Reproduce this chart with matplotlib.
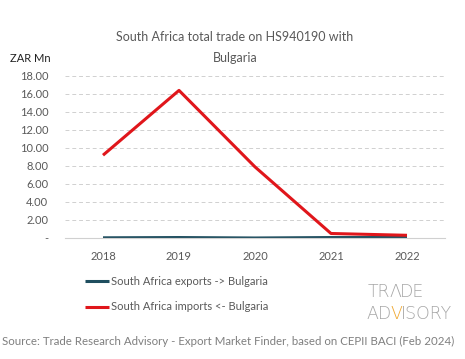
import matplotlib
matplotlib.use("Agg")
import matplotlib.pyplot as plt

years = ["2018", "2019", "2020", "2021", "2022"]
exports = [0.02, 0.05, 0.0, 0.05, 0.05]
imports = [9.2, 16.4, 7.9, 0.5, 0.3]
yticks = [0, 2, 4, 6, 8, 10, 12, 14, 16, 18]
ytick_labels = ["-"] + [f"{v:.2f}" for v in yticks[1:]]

plt.rcParams['font.family'] = ['Lato', 'DejaVu Sans']
txt = "#595959"

fig = plt.figure(figsize=(4.65, 3.59), dpi=100)
ax = fig.add_axes([65/465, 1-238/359, 380/465, (238-76)/359])

x = list(range(len(years)))
ax.plot(x, exports, color="#1f4e5f", lw=2.2, solid_capstyle="butt", label="South Africa exports -> Bulgaria")
ax.plot(x, imports, color="#e0161b", lw=2.2, solid_capstyle="butt", label="South Africa imports <- Bulgaria")

ax.set_xlim(-0.5, 4.5)
ax.set_ylim(0, 18)
ax.set_xticks(x)
ax.set_xticklabels(years)
ax.set_yticks(yticks)
ax.set_yticklabels(ytick_labels)
ax.tick_params(axis="both", length=0, labelsize=8, colors=txt)
ax.tick_params(axis="x", pad=9)
ax.tick_params(axis="y", pad=12)
ax.grid(axis="y", color="#d0d0d0", lw=0.7, ls=(0, (4, 3)))
ax.set_axisbelow(True)
for s in ["top", "right", "left"]:
    ax.spines[s].set_visible(False)
ax.spines["bottom"].set_color("#d0d0d0")
ax.spines["bottom"].set_linewidth(0.8)

fig.text(235/465, 1-37/359, "South Africa total trade on HS940190 with", ha="center", va="center", fontsize=9, color=txt)
fig.text(235/465, 1-58/359, "Bulgaria", ha="center", va="center", fontsize=9, color=txt)
fig.text(10/465, 1-58/359, "ZAR Mn", ha="left", va="center", fontsize=8, color="#222222")

leg = fig.legend(loc="upper left", bbox_to_anchor=(75/465, 1-266/359), frameon=False,
                 fontsize=8, labelcolor=txt, handlelength=2.2, handletextpad=0.1,
                 labelspacing=1.3)

fig.text(2/465, 1-341/359, "Source: Trade Research Advisory - Export Market Finder, based on CEPII BACI (Feb 2024)",
         ha="left", va="center", fontsize=8.3, color="#7f7f7f")

# logo
renderer = fig.canvas.get_renderer()
def colored_line(parts, x0, y0, size):
    xp = x0
    for s, c in parts:
        t = fig.text(xp/465, 1-y0/359, s, ha="left", va="center", fontsize=size, color=c,
                     family="DejaVu Sans", fontweight="light")
        bb = t.get_window_extent(renderer)
        xp += bb.width - 1.0
grey = "#a6a6a6"
orange = "#f0a830"
colored_line([("TR", grey), ("Λ", grey), ("DE", grey)], 368, 292, 12.5)
colored_line([("AD", grey), ("V", orange), ("ISORY", grey)], 366, 314, 12.5)

fig.savefig("out.png", dpi=100)
